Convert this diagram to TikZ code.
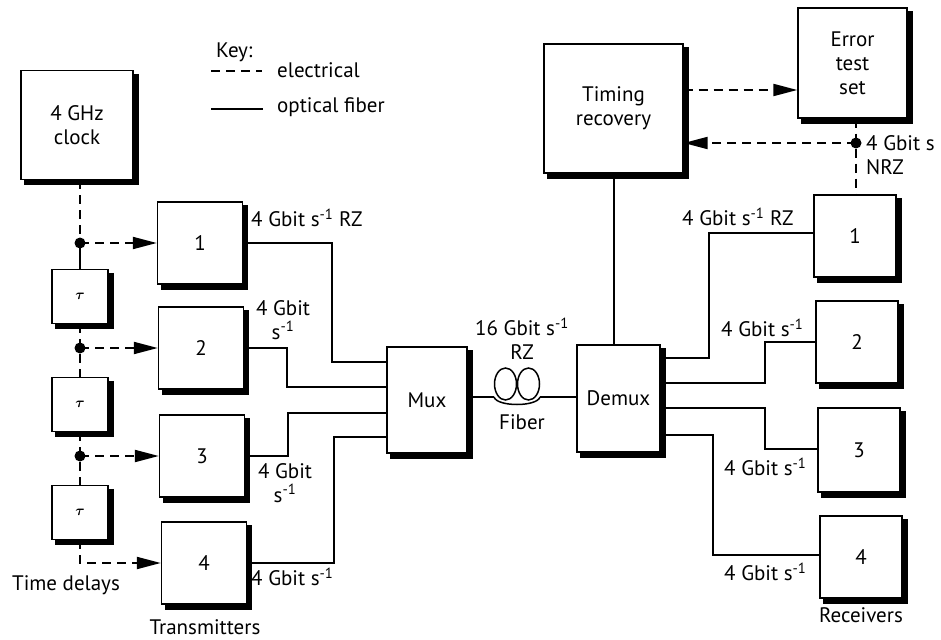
\documentclass[tikz,border=0pt]{standalone}
\usepackage{bm}
\usepackage{fontspec}
\setmainfont{PT Sans}
\usetikzlibrary{arrows.meta,calc}
\tikzset{
  blk/.style={draw, line width=1.4pt, fill=white, inner sep=0pt, align=center},
  elec/.style={line width=2pt, dash pattern=on 9pt off 6pt},
  opt/.style={line width=1.5pt},
  arr/.style={-{Triangle[length=24pt,width=12pt]}},
  lbl/.style={inner sep=0pt, align=left},
  dotc/.style={circle, fill=black, inner sep=0pt, minimum size=11pt},
}
\newcommand{\boxshadow}[1]{%
  \draw[line width=5pt, line cap=butt, line join=miter]
    ($(#1.north east)+(2.5pt,-4pt)$) -- ($(#1.south east)+(2.5pt,-2.5pt)$) -- ($(#1.south west)+(4pt,-2.5pt)$);%
}
\begin{document}
\begin{tikzpicture}[x=1pt,y=-1pt,
  every node/.append style={font=\fontsize{21}{24}\selectfont}]
\useasboundingbox (0,0) rectangle (941,639);

% key
\node[lbl, anchor=west] (keyt) at (216,52) {Key:};
\coordinate (k1a) at (211,71); \coordinate (k1b) at (262,71);
\coordinate (k2a) at (211,109); \coordinate (k2b) at (263,109);
\draw[elec] (k1a) -- (k1b);
\draw[opt, line width=2pt] (k2a) -- (k2b);
\node[lbl, anchor=west] (kel) at (277,70) {electrical};
\node[lbl, anchor=west] (kop) at (277,107) {optical fiber};

% boxes
\node[blk, minimum width=112pt, minimum height=109pt] (clk) at (77,125) {4 GHz\\clock};
\node[blk, minimum width=56pt, minimum height=54pt] (t1) at (80,296.5) {\fontsize{15}{15}\selectfont$\bm{\tau}$};
\node[blk, minimum width=56pt, minimum height=54pt] (t2) at (80,404.5) {\fontsize{15}{15}\selectfont$\bm{\tau}$};
\node[blk, minimum width=56pt, minimum height=54pt] (t3) at (80,512.5) {\fontsize{15}{15}\selectfont$\bm{\tau}$};

\node[blk, minimum width=85pt, minimum height=82pt] (tx1) at (200,243) {1};
\node[blk, minimum width=85pt, minimum height=82pt] (tx2) at (201,348) {2};
\node[blk, minimum width=85pt, minimum height=82pt] (tx3) at (202,456) {3};
\node[blk, minimum width=85pt, minimum height=82pt] (tx4) at (204,563) {4};

\node[blk, minimum width=80pt, minimum height=106pt] (mux) at (427,400) {Mux};
\node[blk, minimum width=83pt, minimum height=107pt] (dmx) at (618.5,398.5) {Demux};
\node[blk, minimum width=139pt, minimum height=129pt] (tim) at (613.5,108.5) {Timing\\recovery};
\node[blk, minimum width=109pt, minimum height=110pt] (err) at (852.5,63) {Error\\test\\set};

\node[blk, minimum width=82pt, minimum height=82pt] (rx1) at (855,236) {1};
\node[blk, minimum width=82pt, minimum height=82pt] (rx2) at (857,342) {2};
\node[blk, minimum width=82pt, minimum height=84pt] (rx3) at (859,450) {3};
\node[blk, minimum width=82pt, minimum height=82pt] (rx4) at (861,557) {4};

% shadows (thick right and bottom edges)
\boxshadow{clk}\boxshadow{t1}\boxshadow{t2}\boxshadow{t3}
\boxshadow{tx1}\boxshadow{tx2}\boxshadow{tx3}\boxshadow{tx4}
\boxshadow{mux}\boxshadow{dmx}\boxshadow{tim}\boxshadow{err}
\boxshadow{rx1}\boxshadow{rx2}\boxshadow{rx3}\boxshadow{rx4}

% clock / delay chain
\coordinate (d1) at (80,243);
\coordinate (d2) at (80,348);
\coordinate (d3) at (80,456);
\draw[elec] (d1 |- clk.south) -- (d1);
\draw[opt, line width=2pt] (d1) -- (t1.north);
\draw[elec] (t1.south) -- (d2) -- (t2.north);
\draw[elec] (t2.south) -- (d3) -- (t3.north);
\draw[elec, arr] (d1) -- (tx1.west);
\draw[elec, arr] (d2) -- (tx2.west);
\draw[elec, arr] (d3) -- (tx3.west);
\draw[elec, arr] (t3.south) |- (tx4.west);
\node[dotc] (p1) at (d1) {};
\node[dotc] (p2) at (d2) {};
\node[dotc] (p3) at (d3) {};

% transmitters to mux
\draw[opt] (tx1.east) -- (332,243) -- (332,362) -- (mux.west |- 0,362);
\draw[opt] (tx2.east) -- (287,348) -- (287,387) -- (mux.west |- 0,387);
\draw[opt] (tx3.east) -- (288,456) -- (288,413) -- (mux.west |- 0,413);
\draw[opt] (tx4.east) -- (334,563) -- (334,437) -- (mux.west |- 0,437);

% fiber
\coordinate (f1) at (494,397);
\coordinate (f2) at (540,397);
\draw[opt] (mux.east |- f1) -- (f1);
\draw[opt] (f1) .. controls (497,407) and (537,407) .. (f2);
\draw[opt] (505.5,384) ellipse [x radius=11pt, y radius=16pt];
\draw[opt] (528.5,384) ellipse [x radius=11pt, y radius=16pt];
\draw[opt] (f2) -- (dmx.west |- f2);

% demux to receivers
\draw[opt] (dmx.east |- 0,358) -- (709,358) -- (709,233) -- (rx1.west |- 0,233);
\draw[opt] (dmx.east |- 0,383) -- (765,383) -- (765,342) -- (rx2.west |- 0,342);
\draw[opt] (dmx.east |- 0,408) -- (765,408) -- (765,449) -- (rx3.west |- 0,449);
\draw[opt] (dmx.east |- 0,435) -- (713,435) -- (713,555) -- (rx4.west |- 0,555);

% timing
\draw[opt] (tim.south -| 614,0) -- (dmx.north -| 614,0);
\coordinate (e) at (856,143);
\draw[elec] (e |- err.south) -- (e |- rx1.north);
\draw[elec, arr] (e) -- (e -| tim.east);
\draw[elec, arr] (tim.east |- 0,90) -- (err.west |- 0,90);
\node[dotc] (pe) at (e) {};

% labels
\node[lbl, anchor=west] (l1) at (251,218) {4 Gbit s\textsuperscript{-1} RZ};
\node[lbl, align=center] (l2) at (283,320) {4 Gbit\\s\textsuperscript{-1}};
\node[lbl, align=center] (l3) at (285,483) {4 Gbit\\s\textsuperscript{-1}};
\node[lbl, anchor=west] (l4) at (251,577) {4 Gbit s\textsuperscript{-1}};
\node[lbl, align=center] (l5) at (522,339) {16 Gbit s\textsuperscript{-1}\\RZ};
\node[lbl] (l6) at (522,422) {Fiber};
\node[lbl, anchor=west] (r1) at (682,217) {4 Gbit s\textsuperscript{-1} RZ};
\node[lbl, anchor=west] (r2) at (721,328) {4 Gbit s\textsuperscript{-1}};
\node[lbl, anchor=west] (r3) at (724,467) {4 Gbit s\textsuperscript{-1}};
\node[lbl, anchor=west] (r4) at (724,572) {4 Gbit s\textsuperscript{-1}};
\node[lbl, anchor=west] (nrz) at (866,155) {4 Gbit s\\NRZ};
\node[lbl] (rcv) at (861,615) {Receivers};
\node[lbl] (trn) at (205,627) {Transmitters};
\node[lbl] (tdl) at (66,585) {Time delays};
\end{tikzpicture}
\end{document}
